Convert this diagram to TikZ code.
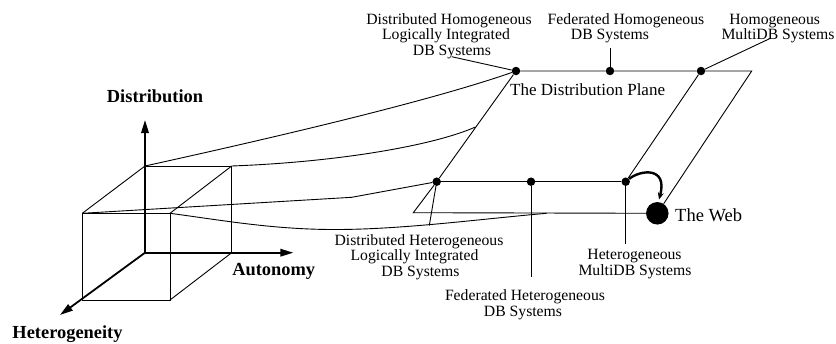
\documentclass[tikz,border=0pt]{standalone}
\usepackage{fontspec}
\setmainfont{Liberation Serif}
\usetikzlibrary{arrows.meta}
\begin{document}
\begin{tikzpicture}[x=1pt,y=-1pt,
  ln/.style={line width=0.9pt},
  axis/.style={line width=1.8pt,-{Triangle[length=13pt,width=7.5pt]}},
  dot/.style={circle,fill=black,draw=none,inner sep=0pt,minimum size=8.5pt},
  webdot/.style={circle,fill=black,draw=none,inner sep=0pt,minimum size=22.5pt},
  lbl/.style={anchor=base,inner sep=0pt,font=\fontsize{15.7}{16}\selectfont},
  plbl/.style={anchor=base west,inner sep=0pt,font=\fontsize{17}{18}\selectfont},
  weblbl/.style={anchor=base west,inner sep=0pt,font=\fontsize{18.5}{19}\selectfont},
  axlbl/.style={anchor=base,inner sep=0pt,font=\fontsize{18.4}{19}\selectfont\bfseries},
  webarrow/.style={line width=2.4pt,-{Stealth[length=7pt,width=6pt]}},
]
\useasboundingbox (0,0) rectangle (836,343);

% cube corners
\coordinate (O)  at (145,252.7);
\coordinate (B1) at (145,166);
\coordinate (B2) at (231.7,166);
\coordinate (B3) at (231.7,252.7);
\coordinate (F1) at (82.3,213.3);
\coordinate (F2) at (170,213.3);
\coordinate (F3) at (170,300);
\coordinate (F4) at (82.3,300);
\coordinate (DistTip) at (145,120);
\coordinate (AutTip) at (293.3,252.7);
\coordinate (HetTip) at (60,315);

% cube
\draw[ln] (B1) -- (B2) -- (B3) -- (O) -- cycle;
\draw[ln] (F1) -- (F2) -- (F3) -- (F4) -- cycle;
\draw[ln] (B1) -- (F1);
\draw[ln] (B2) -- (F2);
\draw[ln] (B3) -- (F3);

% axes
\draw[axis] (O) -- (DistTip);
\draw[axis] (O) -- (AutTip);
\draw[axis] (O) -- (HetTip);

\node[axlbl] (distlbl) at (155,102.7) {Distribution};
\node[axlbl] (autlbl) at (273.7,275.5) {Autonomy};
\node[axlbl] (hetlbl) at (67.5,338.5) {Heterogeneity};

% dots
\node[dot] (dh)   at (516,71) {};
\node[dot] (fh)   at (610,71) {};
\node[dot] (hm)   at (701,71) {};
\node[dot] (dhet) at (436.7,181.7) {};
\node[dot] (fhet) at (531,181.7) {};
\node[dot] (hmul) at (625.7,181.7) {};
\node[webdot] (web) at (657.3,213.3) {};
\coordinate (TR) at (751.7,71);
\coordinate (PL) at (413.3,212.7);
\coordinate (E2) at (475.4,127);
\coordinate (E4) at (546.7,213.3);
\coordinate (K3) at (351.7,197.3);

% planes
\draw[ln] (dh) -- (fh) -- (hm) -- (TR) -- (web);
\draw[ln] (dh) -- (dhet) -- (PL) -- (web);
\draw[ln] (dhet) -- (fhet) -- (hmul);
\draw[ln] (hm) -- (hmul);

% connections from the cube
\draw[ln] (B1) .. controls (295,133) and (436,99) .. (dh);
\draw[ln] (B2) .. controls (340,162) and (435,145) .. (E2);
\draw[ln] (F1) -- (K3) -- (dhet);
\draw[ln] (F2) .. controls (220,220) and (270,229) .. (330,229.5)
              .. controls (400,230) and (480,219) .. (E4);

% web arrow
\draw[webarrow] (hmul) .. controls (640,170) and (668,166) .. (659,199.5);

% labels top
\node[lbl] (dh1) at (449,24) {Distributed Homogeneous};
\node[lbl] (dh2) at (446,39.5) {Logically Integrated};
\node[lbl] (dh3) at (452,55) {DB Systems};
\coordinate (cdh) at (451.7,56.7);
\draw[ln] (cdh) -- (dh);

\node[lbl] (fh1) at (626,24) {Federated Homogeneous};
\node[lbl] (fh2) at (610,39.5) {DB Systems};
\coordinate (cfh) at (610,48);
\draw[ln] (cfh) -- (fh);

\node[lbl] (hm1) at (774.7,24) {Homogeneous};
\node[lbl] (hm2) at (778,39.5) {MultiDB Systems};
\coordinate (chm) at (770,38.5);
\draw[ln] (chm) -- (hm);

\node[plbl] (plane) at (510,95) {The Distribution Plane};

% labels bottom
\node[lbl] (dt1) at (419,245) {Distributed Heterogeneous};
\node[lbl] (dt2) at (414.5,260.7) {Logically Integrated};
\node[lbl] (dt3) at (420.5,276) {DB Systems};
\coordinate (cdt) at (429.3,225.5);
\draw[ln] (cdt) -- (dhet);

\node[lbl] (ft1) at (525,300.5) {Federated Heterogeneous};
\node[lbl] (ft2) at (523,316) {DB Systems};
\coordinate (cft) at (531,276.5);
\draw[ln] (cft) -- (fhet);

\node[lbl] (ht1) at (634.5,259.5) {Heterogeneous};
\node[lbl] (ht2) at (635,275) {MultiDB Systems};
\coordinate (cht) at (625.7,243.5);
\draw[ln] (cht) -- (hmul);

\node[weblbl] (weblabel) at (675,221) {The Web};
\end{tikzpicture}
\end{document}
